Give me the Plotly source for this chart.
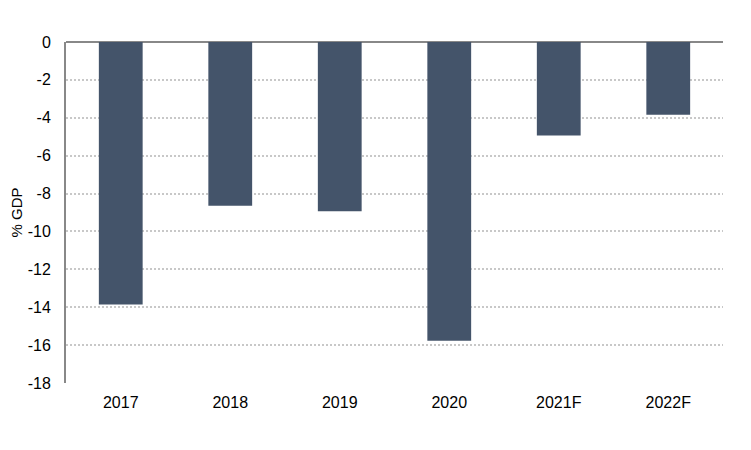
import plotly.graph_objects as go

categories = ["2017", "2018", "2019", "2020", "2021F", "2022F"]
values = [-13.85, -8.64, -8.93, -15.77, -4.93, -3.84]
y_ticks = [0, -2, -4, -6, -8, -10, -12, -14, -16, -18]

fig = go.Figure(go.Bar(x=categories, y=values, marker_color="#44546A",
                       marker_line_width=0))

font = dict(family="Liberation Sans, Arial, sans-serif", size=16, color="#000000")

# page body has an 8px default margin; compensate so the plot lands where the reference has it
fig.update_layout(
    width=743, height=442,
    margin=dict(l=58, r=28, t=34, b=67),
    plot_bgcolor="white", paper_bgcolor="white",
    font=font, bargap=0.6, showlegend=False,
)
fig.update_yaxes(
    range=[-18, 0], tickvals=y_ticks, ticktext=[str(v) for v in y_ticks],
    showgrid=True, gridcolor="#C8C8C8", griddash="2px,2px", gridwidth=1.5,
    showline=True, linecolor="#888888", linewidth=2,
    zeroline=True, zerolinecolor="#888888", zerolinewidth=2,
    ticks="outside", ticklen=10, tickcolor="rgba(0,0,0,0)",
    title=dict(text="% GDP", font=dict(size=15), standoff=16),
    automargin=False,
)
fig.update_xaxes(showline=False, showgrid=False, ticks="outside", ticklen=5,
                 tickcolor="rgba(0,0,0,0)", automargin=False)

fig.write_html("out.html")
